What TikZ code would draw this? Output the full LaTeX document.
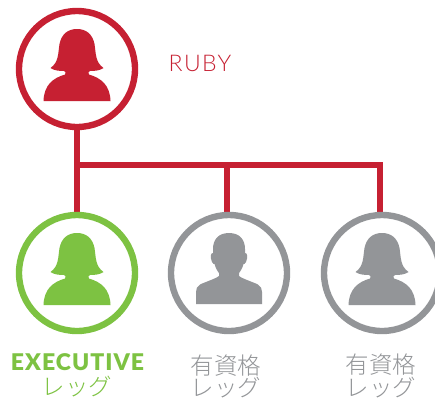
\documentclass[tikz,border=0pt]{standalone}
\usepackage{fontspec}
\usetikzlibrary{backgrounds}
\setmainfont{Lato}
\newfontfamily\jp{Noto Sans CJK JP Light}
\newfontfamily\ltn[LetterSpace=6]{Lato Light}
\newfontfamily\hvy[LetterSpace=4.5]{Lato Black}
\definecolor{rubyred}{HTML}{C62032}
\definecolor{execgreen}{HTML}{7DC242}
\definecolor{leggrey}{HTML}{939598}
\tikzset{
  ring/.style={circle,draw=#1,line width=6.4pt,fill=white,minimum size=116pt,inner sep=0pt},
  link/.style={draw=rubyred,line width=6pt},
  woman/.pic={
    \fill (0,-40) .. controls (-9,-40) and (-15.5,-35) .. (-17.5,-25)
      .. controls (-19,-16) and (-18,-7) .. (-26.5,-1)
      .. controls (-23,1.5) and (-18,2) .. (-13,2)
      .. controls (-11,3) and (-11,4) .. (-12,5.5)
      .. controls (-24,9) and (-33,16) .. (-33.5,32)
      -- (33.5,32)
      .. controls (33,16) and (24,9) .. (12,5.5)
      .. controls (11,4) and (11,3) .. (13,2)
      .. controls (18,2) and (23,1.5) .. (26.5,-1)
      .. controls (18,-7) and (19,-16) .. (17.5,-25)
      .. controls (15.5,-35) and (9,-40) .. (0,-40) -- cycle;
  },
  man/.pic={
    \fill (0,-40) .. controls (-11,-40) and (-16,-33) .. (-16,-24)
      -- (-16,-20) .. controls (-18.5,-20) and (-19,-16) .. (-17,-11)
      .. controls (-16,-9) and (-15,-9) .. (-14.5,-9)
      .. controls (-13.5,-5) and (-11,-1) .. (-10,0)
      -- (-10,3) .. controls (-14,6) and (-24,9) .. (-29,11.5)
      .. controls (-32,13) and (-33,16) .. (-33,19)
      -- (-33,31) -- (33,31) -- (33,19)
      .. controls (33,16) and (32,13) .. (29,11.5)
      .. controls (24,9) and (14,6) .. (10,3)
      -- (10,0) .. controls (11,-1) and (13.5,-5) .. (14.5,-9)
      .. controls (15,-9) and (16,-9) .. (17,-11)
      .. controls (19,-16) and (18.5,-20) .. (16,-20)
      -- (16,-24) .. controls (16,-33) and (11,-40) .. (0,-40) -- cycle;
  },
  rubytext/.style={text=rubyred,font=\ltn\fontsize{23}{23}\selectfont,inner sep=0pt},
  exectext/.style={text=execgreen,font=\hvy\fontsize{23}{23}\selectfont,inner sep=0pt},
  legtext/.style={text=#1,font=\jp\fontsize{23.5}{23.5}\selectfont,inner sep=0pt},
}
\begin{document}
\begin{tikzpicture}[x=1pt,y=-1pt]
\useasboundingbox (0,0) rectangle (435,399);
\clip (0,0) rectangle (435,399);
\coordinate (j1) at (77,164.5);
\coordinate (j2) at (227,164.5);
\coordinate (j3) at (380,164.5);
\node[ring=rubyred] (top) at (77,69) {};
\node[ring=execgreen] (exec) at (77,273) {};
\node[ring=leggrey] (q1) at (229,273) {};
\node[ring=leggrey] (q2) at (382,273) {};
\begin{scope}[on background layer]
\draw[link] (top.center) -- (exec.center);
\draw[link,line cap=rect] (j1) -- (j3);
\draw[link] (j2) -- (j2 |- q1.center);
\draw[link] (j3) -- (j3 |- q2.center);
\end{scope}
\pic[rubyred] at (top) {woman};
\pic[execgreen] at (exec) {woman};
\pic[leggrey] at (q1) {man};
\pic[leggrey] at (q2) {woman};
\node[rubytext] (rubylabel) at (200,63) {RUBY};
\node[exectext] (execlabel) at (77.5,362) {EXECUTIVE};
\node[legtext=execgreen] (execleg) at (77,387) {レッグ};
\node[legtext=leggrey] (q1a) at (226,365.5) {有資格};
\node[legtext=leggrey] (q1b) at (226,388) {レッグ};
\node[legtext=leggrey] (q2a) at (381,365) {有資格};
\node[legtext=leggrey] (q2b) at (381,388) {レッグ};
\end{tikzpicture}
\end{document}
